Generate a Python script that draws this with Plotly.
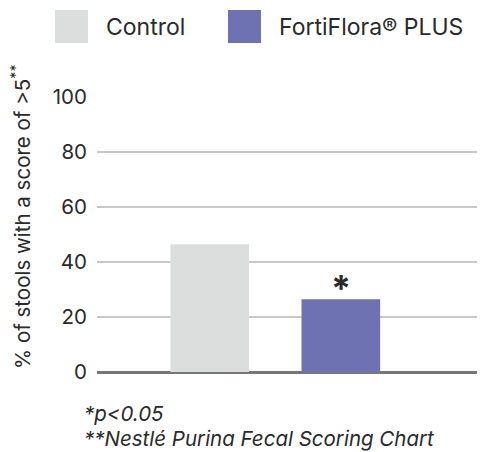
import plotly.graph_objects as go

categories = ["Control", "FortiFlora® PLUS"]
values = [46.5, 26.5]
colors = ["#dcdedd", "#6f72b2"]
tick_vals = [0, 20, 40, 60, 80, 100]
significance = ["", "*"]

FONT = "Inter, Roboto, sans-serif"
TXT = "#2a2a2a"

# page body has an 8px margin: work in window pixels and convert
OFF = 8
W, H = 485 - OFF, 452 - OFF
L, T, B = 97 - OFF, 97 - OFF, 80
PW, PH = W - L, H - T - B


def px(x):
    return (x - 97) / PW


def py(y):
    return (372 - y) / PH


fig = go.Figure()
fig.add_trace(go.Bar(
    x=list(range(len(categories))), y=values,
    marker=dict(color=colors, line=dict(width=0)),
    width=0.6, showlegend=False, hoverinfo="skip",
))

for i, s in enumerate(significance):
    if s:
        fig.add_annotation(x=i, y=values[i], text="<b>" + s + "</b>", showarrow=False,
                           yanchor="bottom", yshift=-13,
                           font=dict(family=FONT, size=36, color=TXT))

# legend (squares + labels)
leg_x = [55, 228]
for i, c in enumerate(categories):
    fig.add_shape(type="rect", xref="paper", yref="paper",
                  x0=px(leg_x[i]), x1=px(leg_x[i] + 33),
                  y0=py(43), y1=py(10),
                  fillcolor=colors[i], line=dict(width=0))
    fig.add_annotation(xref="paper", yref="paper",
                       x=px(leg_x[i] + 49), y=py(27),
                       text=c, showarrow=False, xanchor="left", yanchor="middle",
                       font=dict(family=FONT, size=23, color=TXT))

# y-axis title
fig.add_annotation(xref="paper", yref="paper", x=px(21), y=py(217),
                   text="% of stools with a score of >5<sup>**</sup>", textangle=-90,
                   showarrow=False, xanchor="center", yanchor="middle",
                   font=dict(family=FONT, size=20.5, color=TXT))

# footnotes
fig.add_annotation(xref="paper", yref="paper", x=px(82), y=py(413),
                   text="<i>*p<0.05</i>", showarrow=False, xanchor="left", yanchor="middle",
                   font=dict(family=FONT, size=20.5, color=TXT))
fig.add_annotation(xref="paper", yref="paper", x=px(82), y=py(438),
                   text="<i>**Nestlé Purina Fecal Scoring Chart</i>", showarrow=False,
                   xanchor="left", yanchor="middle",
                   font=dict(family=FONT, size=20.5, color=TXT))

fig.update_layout(
    width=W, height=H,
    margin=dict(l=L, r=0, t=T, b=B),
    paper_bgcolor="white", plot_bgcolor="white",
    xaxis=dict(range=[-0.86, 2.1], showticklabels=False, showgrid=False,
               zeroline=False, showline=False, ticks=""),
    yaxis=dict(range=[0, 100], tickvals=tick_vals, showgrid=True,
               gridcolor="#c8c8c8", gridwidth=1.5, zeroline=True,
               zerolinecolor="#777777", zerolinewidth=3, showline=False,
               ticks="", ticklabelstandoff=9,
               tickfont=dict(family=FONT, size=20.5, color=TXT)),
)

fig.write_html("out.html")
